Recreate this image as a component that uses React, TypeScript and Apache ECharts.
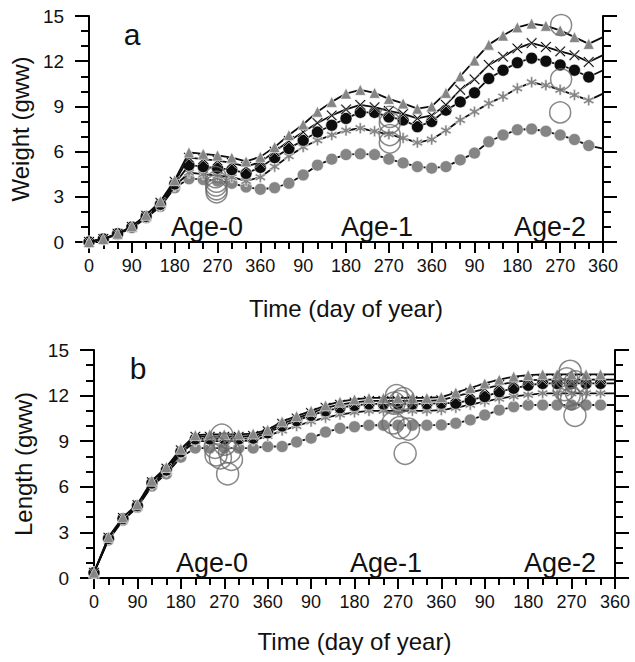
import React, { useEffect, useRef } from "react";
import * as echarts from "echarts";

// ---- data ----
const DAYS = [0, 30, 60, 90, 120, 150, 180, 210, 240, 270, 300, 330, 360, 390, 420, 450, 480, 510, 540, 570, 600, 630, 660, 690, 720, 750, 780, 810, 840, 870, 900, 930, 960, 990, 1020, 1050, 1080];
const X_TICK_LABELS = ["0", "90", "180", "270", "360", "90", "180", "270", "360", "90", "180", "270", "360"];
const AGE_LABELS = ["Age-0", "Age-1", "Age-2"];

// Panel a: Weight (gww)
const W_TRIANGLE = [0, 0.2, 0.55, 1.05, 1.8, 2.7, 4.1, 5.95, 5.85, 5.75, 5.6, 5.35, 5.65, 6.3, 7.1, 7.8, 8.65, 9.3, 9.85, 10.1, 9.9, 9.5, 9.2, 8.85, 9.0, 9.9, 11.0, 12.05, 13.1, 13.7, 14.25, 14.5, 14.35, 14.05, 13.6, 13.15, 13.6];
const W_CROSS = [0, 0.2, 0.55, 1.0, 1.75, 2.6, 4.0, 5.6, 5.5, 5.4, 5.25, 5.0, 5.3, 6.0, 6.7, 7.3, 7.9, 8.4, 8.8, 9.1, 8.95, 8.7, 8.5, 8.2, 8.4, 9.1, 10.1, 10.8, 11.75, 12.3, 12.85, 13.2, 12.95, 12.65, 12.4, 11.95, 12.4];
const W_BLACK = [0, 0.2, 0.55, 1.0, 1.7, 2.5, 3.85, 5.1, 5.0, 4.9, 4.8, 4.55, 4.95, 5.6, 6.2, 6.75, 7.3, 7.75, 8.2, 8.6, 8.6, 8.3, 8.1, 7.65, 8.0, 8.75, 9.3, 9.9, 10.85, 11.4, 11.9, 12.2, 12.0, 11.75, 11.4, 10.95, 11.4];
const W_STAR = [0, 0.2, 0.5, 0.95, 1.6, 2.4, 3.7, 4.6, 4.5, 4.4, 4.3, 4.05, 4.3, 5.0, 5.7, 6.3, 6.75, 7.1, 7.4, 7.55, 7.35, 7.15, 6.9, 6.6, 6.8, 7.4, 8.1, 8.65, 9.2, 9.65, 10.2, 10.6, 10.4, 10.1, 9.75, 9.4, 9.85];
const W_GRAY = [0, 0.2, 0.5, 0.95, 1.6, 2.35, 3.6, 4.2, 4.15, 4.05, 3.9, 3.65, 3.5, 3.6, 3.9, 4.45, 5.1, 5.5, 5.8, 5.85, 5.8, 5.5, 5.25, 5.0, 4.9, 5.0, 5.45, 5.9, 6.65, 7.1, 7.45, 7.5, 7.35, 7.1, 6.8, 6.4, 6.2];
const W_OBS = [
  [266, 4.3], [268, 4.0], [267, 3.75], [268, 3.5], [268, 3.3],
  [632, 8.3], [632, 7.9], [632, 7.1], [632, 6.6],
  [992, 14.4], [992, 10.8], [990, 8.6],
];

// Panel b: Length (gww)
const L_TRIANGLE = [0.35, 2.7, 4.0, 4.85, 6.4, 7.3, 8.5, 9.4, 9.45, 9.45, 9.45, 9.5, 9.75, 10.3, 10.65, 11.0, 11.35, 11.6, 11.75, 11.85, 11.85, 11.85, 11.85, 11.85, 11.9, 12.2, 12.5, 12.8, 13.05, 13.25, 13.35, 13.4, 13.4, 13.4, 13.4, 13.4, 13.4];
const L_CROSS = [0.35, 2.65, 3.95, 4.8, 6.3, 7.2, 8.4, 9.3, 9.3, 9.3, 9.3, 9.35, 9.65, 10.15, 10.5, 10.85, 11.2, 11.4, 11.55, 11.65, 11.65, 11.65, 11.65, 11.65, 11.7, 11.95, 12.2, 12.45, 12.7, 12.9, 13.0, 13.05, 13.05, 13.05, 13.05, 13.05, 13.05];
const L_BLACK = [0.35, 2.6, 3.9, 4.75, 6.25, 7.1, 8.3, 9.15, 9.15, 9.15, 9.15, 9.2, 9.55, 10.0, 10.35, 10.7, 11.0, 11.2, 11.35, 11.45, 11.45, 11.45, 11.45, 11.45, 11.5, 11.5, 11.7, 11.93, 12.25, 12.48, 12.68, 12.8, 12.8, 12.8, 12.8, 12.8, 12.8];
const L_STAR = [0.35, 2.55, 3.85, 4.7, 6.15, 7.0, 8.2, 9.0, 9.0, 9.0, 9.0, 9.05, 9.35, 9.7, 10.0, 10.3, 10.55, 10.75, 10.9, 11.0, 11.0, 11.0, 11.0, 11.0, 11.05, 11.2, 11.4, 11.6, 11.8, 11.95, 12.05, 12.15, 12.15, 12.15, 12.15, 12.15, 12.15];
const L_GRAY = [0.35, 2.5, 3.8, 4.65, 6.05, 6.85, 7.95, 8.55, 8.55, 8.55, 8.55, 8.55, 8.65, 8.65, 8.95, 9.2, 9.6, 9.85, 9.95, 10.05, 10.05, 10.05, 10.05, 10.05, 10.07, 10.18, 10.4, 10.72, 11.05, 11.27, 11.38, 11.38, 11.38, 11.38, 11.38, 11.38, 11.38];
const L_OBS = [
  [251, 8.6], [265, 9.4], [271, 8.8], [253, 8.1], [281, 8.3], [285, 7.8], [277, 6.85], [262, 7.9],
  [627, 12.0], [641, 11.8], [622, 11.5], [635, 11.6], [620, 10.2], [634, 9.9], [652, 9.8], [645, 8.2],
  [987, 13.6], [980, 13.1], [998, 12.9], [975, 12.4], [1000, 12.2], [990, 11.8], [985, 12.0], [997, 10.7],
];

// ---- styles ----
const FONT = "'Liberation Sans', Arial, Helvetica, sans-serif";
const GRAY = "#858585";
const BLACK = "#0d0d0d";
const OBS_COLOR = "#6a6a6a";

const CROSS_PATH = "path://M1 0 L5 4 L9 0 L10 1 L6 5 L10 9 L9 10 L5 6 L1 10 L0 9 L4 5 L0 1 Z";

function asteriskPath(n: number, R: number, h: number) {
  const c = 5;
  const pts: string[] = [];
  const inner = h / Math.sin(Math.PI / n);
  for (let k = 0; k < n; k++) {
    const t = (k * 2 * Math.PI) / n + Math.PI / 2;
    const dx = Math.cos(t), dy = Math.sin(t);
    const px = -Math.sin(t), py = Math.cos(t);
    pts.push(`${(c + R * dx - h * px).toFixed(3)} ${(c + R * dy - h * py).toFixed(3)}`);
    pts.push(`${(c + R * dx + h * px).toFixed(3)} ${(c + R * dy + h * py).toFixed(3)}`);
    const b = t + Math.PI / n;
    pts.push(`${(c + inner * Math.cos(b)).toFixed(3)} ${(c + inner * Math.sin(b)).toFixed(3)}`);
  }
  return "path://M" + pts.join(" L") + " Z";
}
const STAR_PATH = asteriskPath(6, 5, 1.0);

type MarkStyle = { symbol: string; size: number; color: string };
const S_TRIANGLE: MarkStyle = { symbol: "triangle", size: 11, color: GRAY };
const S_CROSS: MarkStyle = { symbol: CROSS_PATH, size: 11, color: BLACK };
const S_BLACK: MarkStyle = { symbol: "circle", size: 12, color: BLACK };
const S_STAR: MarkStyle = { symbol: STAR_PATH, size: 11, color: GRAY };
const S_GRAY: MarkStyle = { symbol: "circle", size: 12, color: GRAY };

function lineSeries(values: number[], st: MarkStyle, axis: number, z: number) {
  return {
    type: "line",
    xAxisIndex: axis,
    yAxisIndex: axis * 2,
    data: values.map((v, i) =>
      i === values.length - 1 ? { value: [DAYS[i], v], symbol: "none" } : [DAYS[i], v]
    ),
    symbol: st.symbol,
    symbolSize: st.size,
    showSymbol: true,
    showAllSymbol: true,
    itemStyle: { color: st.color, borderColor: "#ffffff", borderWidth: 0.6 },
    lineStyle: { color: BLACK, width: 1.8 },
    z,
    silent: true,
  };
}

function obsSeries(points: number[][], axis: number, size: number) {
  return {
    type: "scatter",
    xAxisIndex: axis,
    yAxisIndex: axis * 2,
    data: points,
    symbol: "circle",
    symbolSize: size,
    itemStyle: { color: "rgba(0,0,0,0)", borderColor: OBS_COLOR, borderWidth: 1.5 },
    z: 10,
    silent: true,
  };
}

function xAxis(gridIndex: number, nameGap: number) {
  return {
    type: "value",
    gridIndex,
    min: 0,
    max: 1080,
    interval: 90,
    axisLine: { show: true, onZero: false, lineStyle: { color: "#000", width: 2 } },
    axisTick: { show: true, inside: false, length: 11, lineStyle: { color: "#000", width: 2 } },
    minorTick: { show: true, splitNumber: 3, length: 7, lineStyle: { color: "#000", width: 2 } },
    splitLine: { show: false },
    minorSplitLine: { show: false },
    axisLabel: {
      fontSize: 18,
      color: "#111",
      fontFamily: FONT,
      margin: 15,
      formatter: (v: number) => X_TICK_LABELS[Math.round(v / 90)] ?? "",
    },
    name: "Time (day of year)",
    nameLocation: "middle",
    nameGap,
    nameTextStyle: { fontSize: 24, color: "#111", fontFamily: FONT },
  };
}

function yAxes(gridIndex: number, name: string, nameGap: number) {
  const common = {
    type: "value",
    gridIndex,
    min: 0,
    max: 15,
    interval: 3,
    splitLine: { show: false },
    minorSplitLine: { show: false },
    axisLine: { show: true, onZero: false, lineStyle: { color: "#000", width: 2 } },
    minorTick: { show: true, splitNumber: 3, length: 8, lineStyle: { color: "#000", width: 2 } },
  };
  return [
    {
      ...common,
      position: "left",
      axisTick: { show: true, inside: false, length: 14, lineStyle: { color: "#000", width: 2 } },
      axisLabel: { fontSize: 19, color: "#111", fontFamily: FONT, margin: 25 },
      name,
      nameLocation: "middle",
      nameGap,
      nameTextStyle: { fontSize: 24, color: "#111", fontFamily: FONT },
    },
    {
      ...common,
      position: "right",
      axisTick: { show: true, inside: false, length: 14, lineStyle: { color: "#000", width: 2 } },
      axisLabel: { show: false },
    },
  ];
}

function textEl(text: string, x: number, y: number, size: number) {
  return {
    type: "text",
    x,
    y,
    style: {
      text,
      fontSize: size,
      fontFamily: FONT,
      fill: "#111",
      align: "center",
      verticalAlign: "middle",
    },
    z: 20,
  };
}

export default function App() {
  const ref = useRef<HTMLDivElement>(null);

  useEffect(() => {
    if (!ref.current) return;
    const chart = echarts.init(ref.current, null, { renderer: "svg" });
    const option = {
      animation: false,
      backgroundColor: "#ffffff",
      textStyle: { fontFamily: FONT },
      grid: [
        { left: 88, top: 16, width: 515, height: 226 },
        { left: 94, top: 350, width: 521, height: 228 },
      ],
      xAxis: [xAxis(0, 54), xAxis(1, 51)],
      yAxis: [...yAxes(0, "Weight (gww)", 53), ...yAxes(1, "Length (gww)", 59)],
      series: [
        lineSeries(W_GRAY, S_GRAY, 0, 2),
        lineSeries(W_STAR, S_STAR, 0, 3),
        lineSeries(W_BLACK, S_BLACK, 0, 4),
        lineSeries(W_CROSS, S_CROSS, 0, 5),
        lineSeries(W_TRIANGLE, S_TRIANGLE, 0, 6),
        obsSeries(W_OBS, 0, 21),
        lineSeries(L_GRAY, S_GRAY, 1, 2),
        lineSeries(L_STAR, S_STAR, 1, 3),
        lineSeries(L_BLACK, S_BLACK, 1, 4),
        lineSeries(L_CROSS, S_CROSS, 1, 5),
        lineSeries(L_TRIANGLE, S_TRIANGLE, 1, 6),
        obsSeries(L_OBS, 1, 22),
      ],
      graphic: [
        textEl("a", 132, 34, 30),
        textEl("b", 138, 368, 30),
        textEl(AGE_LABELS[0], 207, 227, 27),
        textEl(AGE_LABELS[1], 377, 227, 27),
        textEl(AGE_LABELS[2], 550, 227, 27),
        textEl(AGE_LABELS[0], 212, 563, 27),
        textEl(AGE_LABELS[1], 386, 563, 27),
        textEl(AGE_LABELS[2], 560, 563, 27),
      ],
    };
    chart.setOption(option as any);
    return () => chart.dispose();
  }, []);

  return (
    <div
      ref={ref}
      style={{ position: "fixed", left: 0, top: 0, width: 635, height: 662, background: "#fff" }}
    />
  );
}
